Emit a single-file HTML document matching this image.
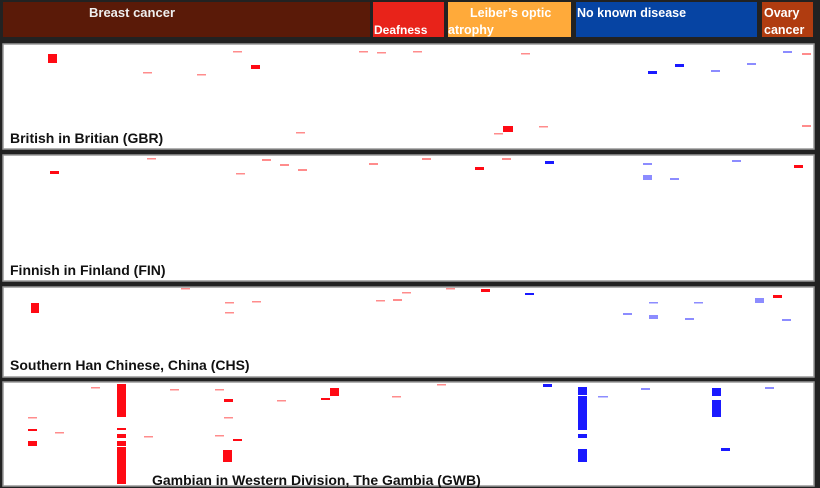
<!DOCTYPE html>
<html><head><meta charset="utf-8"><style>
body{margin:0;background:#222;width:820px;height:488px;overflow:hidden;font-family:"Liberation Sans",Arial,sans-serif}
svg{display:block}
text{font-family:"Liberation Sans",Arial,sans-serif;font-weight:bold}
</style></head><body>
<svg id="chart" width="820" height="488" viewBox="0 0 820 488">
<rect x="0" y="0" width="820" height="488" fill="#222"/>
<g>
<rect x="3" y="2" width="367" height="35" fill="#5a1a08"/>
<text x="132" y="17" fill="#eee" font-size="13" text-anchor="middle">Breast cancer</text>
<rect x="373" y="2" width="71" height="35" fill="#e8231a"/>
<text x="374" y="34" fill="#fff" font-size="12">Deafness</text>
<rect x="448" y="2" width="123" height="35" fill="#ffaa3a"/>
<text x="470" y="17" fill="#fff" font-size="12.5">Leiber’s optic</text>
<text x="448" y="34" fill="#fff" font-size="12.5">atrophy</text>
<rect x="576" y="2" width="181" height="35" fill="#0644a3"/>
<text x="577" y="17" fill="#fff" font-size="12.5">No known disease</text>
<rect x="762" y="2" width="51" height="35" fill="#b03c10"/>
<text x="764" y="17" fill="#fff" font-size="12.5">Ovary</text>
<text x="764" y="34" fill="#fff" font-size="12.5">cancer</text>
</g>
<g id="panels"></g>
</svg>
<script>
const panelNames = ["British in Britian (GBR)","Finnish in Finland (FIN)","Southern Han Chinese, China (CHS)","Gambian in Western Division, The Gambia (GWB)"];
const panelTop = [44,155,287,382];
const panelBottom = [149,281,377,486];
const labelX = [10,10,10,152];
const labelY = [143,275,370,485];
const markPanel = [
0,0,0,0,0,0,0,0,0,0,0,0,0,0,0,0,0,0,0,0,
1,1,1,1,1,1,1,1,1,1,1,1,1,1,1,1,
2,2,2,2,2,2,2,2,2,2,2,2,2,2,2,2,2,2,2,2,
3,3,3,3,3,3,3,3,3,3,3,3,3,3,3,3,3,3,3,3,3,3,3,3,3,3,3,3,3,3,3,3,3,3,3,3,3,3,3,3,3];
const markPos = [
48,233,143,197,251,296,359,377,413,521,494,503,539,648,675,711,747,783,802,802,
50,147,236,262,280,298,369,422,475,502,545,643,643,670,732,794,
31,181,225,225,252,376,393,402,446,481,525,623,649,649,685,694,755,773,782,755,
91,117,117,117,117,117,117,117,28,28,28,55,144,170,215,224,224,215,233,223,277,321,330,392,437,
543,578,578,578,578,578,578,578,598,641,712,712,721,765,578];
const markRow = [
10,7,28,30,21,88,7,8,7,9,89,82,82,27,20,26,19,7,9,81,
16,3,18,4,9,14,8,3,12,3,6,8,20,23,5,10,
16,1,15,25,14,13,12,5,1,2,6,26,15,28,31,15,11,8,32,13,
5,2,5,46,52,54,59,65,35,47,59,50,54,7,7,17,35,53,57,68,18,16,6,14,2,
2,5,15,52,54,67,68,14,14,6,6,18,66,5,14];
const markW = [
9,9,9,9,9,9,9,9,9,9,9,10,9,9,9,9,9,9,9,9,
9,9,9,9,9,9,9,9,9,9,9,9,9,9,9,9,
8,9,9,9,9,9,9,9,9,9,9,9,9,9,9,9,9,9,9,9,
9,9,9,9,9,9,9,9,9,9,9,9,9,9,9,9,9,9,9,9,9,9,9,9,9,
9,9,9,9,9,9,9,9,10,9,9,9,9,9,9];
const markH = [
9,1.5,1.5,1.5,4,1.5,1.5,1.5,1.5,1.5,1.5,6,1.5,3,3,2,2,2,2,2,
3,1.5,1.5,2,2,2,2,2,3,2,3,2,5,2,2,3,
10,1.5,1.5,1.5,1.5,1.5,2,1.5,1.5,3,2,2,1.5,4,2,1.5,5,3,2,1.5,
1.5,3,30,2,2,2,5,37,1.5,2,5,1.5,1.5,1.5,1.5,3,1.5,1.5,2,12,1.5,2,8,1.5,1.5,
3,8,33,2,2,1.5,12,1.5,1.5,2,8,17,3,2,1.5];
const markKind = [
1,0,0,0,1,0,0,0,0,0,0,1,0,2,2,3,3,3,0,0,
1,0,0,0,0,0,0,0,1,0,2,3,3,3,3,1,
1,0,0,0,0,0,0,0,0,1,2,3,3,3,3,3,3,1,3,3,
0,1,1,1,1,1,1,1,0,1,1,0,0,0,0,1,0,0,1,1,0,1,1,0,0,
2,2,2,2,2,2,2,3,3,3,2,2,2,3,2];
const kindColor = ["#ff8c8c","#ff0a14","#1a1aff","#8c8cff"];
const X0 = 0;
function xScale(p){return X0 + p;}
function yScale(panel,row){return panelTop[panel] + row;}
const NS="http://www.w3.org/2000/svg";
const g=document.getElementById("panels");
for(let i=0;i<panelNames.length;i++){
  const r=document.createElementNS(NS,"rect");
  r.setAttribute("x",3);r.setAttribute("y",panelTop[i]);
  r.setAttribute("width",811);r.setAttribute("height",panelBottom[i]-panelTop[i]);
  r.setAttribute("fill","#fff");r.setAttribute("stroke","#999");r.setAttribute("stroke-width","1.5");
  
  
  g.appendChild(r);
}
for(let k=0;k<markPos.length;k++){
  const p=markPanel[k];
  const r=document.createElementNS(NS,"rect");
  r.setAttribute("x",xScale(markPos[k]));
  r.setAttribute("y",yScale(p,markRow[k]));
  r.setAttribute("width",markW[k]);
  r.setAttribute("height",markH[k]);
  r.setAttribute("fill",kindColor[markKind[k]]);
  
  
  g.appendChild(r);
}
for(let i=0;i<panelNames.length;i++){
  const t=document.createElementNS(NS,"text");
  t.setAttribute("x",labelX[i]);t.setAttribute("y",labelY[i]);
  t.setAttribute("font-size","14");t.setAttribute("fill","#111");
  t.textContent=panelNames[i];
  
  
  g.appendChild(t);
}
</script>
</body></html>
